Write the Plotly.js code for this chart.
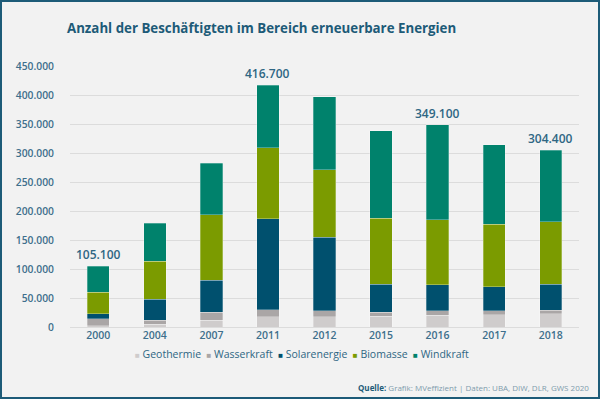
<!DOCTYPE html>
<html>
<head>
<meta charset="utf-8">
<script src="https://cdn.plot.ly/plotly-3.0.1.min.js"></script>
<style>
  html, body { margin: 0; padding: 0; background: #f2f2f2; }
  #wrap { position: relative; width: 600px; height: 399px; }
  #chart { width: 600px; height: 399px; }
  #frame { position: absolute; left: 0; top: 0; width: 600px; height: 399px; box-sizing: border-box;
           border: 2px solid #1d5b78; pointer-events: none; }
</style>
</head>
<body>
<div id="wrap"><div id="chart"></div><div id="frame"></div></div>
<script>
// ---- data (employees) ----
const years = ['2000', '2004', '2007', '2011', '2012', '2015', '2016', '2017', '2018'];
const geothermie   = [2000, 4500, 12000, 17700, 17700, 18900, 20000, 21200, 22900];
const wasserkraft  = [12300, 7500, 13800, 12100, 10400, 6900, 7600, 6400, 5700];
const solarenergie = [8600, 36200, 54500, 156700, 126900, 48200, 45200, 41800, 45400];
const biomasse     = [36700, 64800, 113100, 122800, 116400, 113700, 112000, 108000, 107900];
const windkraft    = [45500, 66000, 89000, 107400, 125700, 150300, 164300, 137000, 122500];
const labelYears   = ['2000', '2011', '2016', '2018'];
const labelTotals  = [105100, 416700, 349100, 304400];
const yTicks       = [0, 50000, 100000, 150000, 200000, 250000, 300000, 350000, 400000, 450000];
const seriesNames  = ['Geothermie', 'Wasserkraft', 'Solarenergie', 'Biomasse', 'Windkraft'];
const seriesColors = ['#cfcccc', '#aaa6a6', '#00506e', '#7b9b00', '#00826c'];

const FONT = 'Open Sans, Noto Sans, sans-serif';
const seriesData = [geothermie, wasserkraft, solarenergie, biomasse, windkraft];

function fmt(v) { return String(v).replace(/\B(?=(\d{3})+(?!\d))/g, '.'); }

const traces = seriesData.map((vals, i) => ({
  type: 'bar', name: seriesNames[i], x: years, y: vals,
  marker: { color: seriesColors[i], line: { color: 'rgba(255,255,255,0.35)', width: 0.8 } },
  showlegend: false
}));

// category axis: annotation x given as the category's serial number
const annotations = labelYears.map((yr, i) => ({
  x: years.indexOf(yr), y: labelTotals[i], xref: 'x', yref: 'y', text: fmt(labelTotals[i]),
  showarrow: false, yanchor: 'bottom', yshift: 1,
  font: { family: FONT, size: 12, color: '#2e6683', weight: 600 }
}));

// legend line drawn as text
const legendText = seriesNames.map((n, i) =>
  '<span style="font-size:8px;color:' + seriesColors[i] + '">■</span>\u00a0' + n
).join('\u00a0\u00a0');
annotations.push({
  xref: 'paper', yref: 'paper', x: 0.455, y: -0.103, xanchor: 'center', yanchor: 'middle',
  text: legendText, showarrow: false,
  font: { family: FONT, size: 10.5, color: '#2e6683', weight: 500 }
});
annotations.push({
  xref: 'paper', yref: 'paper', x: 1.0236, y: -0.2326, xanchor: 'right', yanchor: 'middle',
  text: '<span style="color:#1d5b78"><b>Quelle:</b></span> Grafik: MVeffizient | Daten: UBA, DIW, DLR, GWS 2020',
  showarrow: false,
  font: { family: FONT, size: 8, color: '#7f9cad' }
});

const layout = {
  width: 600, height: 399,
  paper_bgcolor: '#f2f2f2', plot_bgcolor: '#f2f2f2',
  barmode: 'stack', bargap: 0.605,
  margin: { l: 70, r: 21, t: 66, b: 72 },
  title: {
    text: 'Anzahl der Beschäftigten im Bereich erneuerbare Energien',
    x: 0.436, xanchor: 'center', y: 0.93, yanchor: 'middle', xref: 'container', yref: 'container',
    font: { family: FONT, size: 13.3, color: '#1d5b78', weight: 700 }
  },
  xaxis: {
    type: 'category', autorange: false, range: [-0.5, years.length - 0.5],
    showgrid: false, zeroline: false, showline: false, ticks: '',
    tickfont: { family: FONT, size: 10.5, color: '#3e6f8c', weight: 600 }
  },
  yaxis: {
    range: [0, 450000], autorange: false, tickmode: 'array', tickvals: yTicks, ticktext: yTicks.map(fmt),
    showgrid: true, gridcolor: '#dcdcdc', gridwidth: 1,
    zeroline: true, zerolinecolor: '#dcdcdc', zerolinewidth: 1,
    showline: false, ticks: '', ticklabelstandoff: 15,
    tickfont: { family: FONT, size: 10.3, color: '#3e6f8c', weight: 600 }
  },
  annotations: annotations,
  font: { family: FONT }
};

Plotly.newPlot('chart', traces, layout, { displayModeBar: false });
</script>
</body>
</html>
